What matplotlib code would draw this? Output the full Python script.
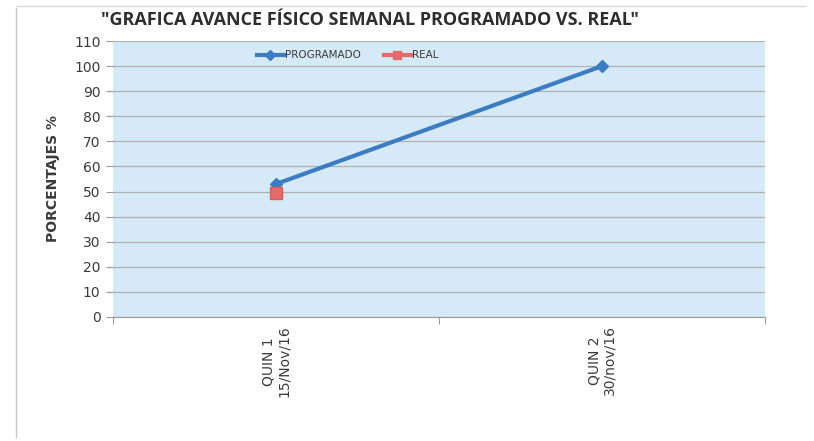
import matplotlib.pyplot as plt
from matplotlib.lines import Line2D

# data
categories = ['QUIN 1\n15/Nov/16', 'QUIN 2\n30/nov/16']
programado = [53, 100]
real = [49.5]
y_ticks = list(range(0, 111, 10))

blue = '#3b7dc0'
red = '#e56b6b'
bg = '#d6e9f6'
text_col = '#3a3a3a'

fig = plt.figure(figsize=(8.14, 4.41), dpi=100)
ax = fig.add_axes([113 / 814, 1 - 317 / 441, (765 - 113) / 814, (317 - 41) / 441])
ax.set_facecolor(bg)

x_prog = list(range(len(programado)))
x_real = list(range(len(real)))
ax.plot(x_prog, programado, color=blue, lw=3, marker='D', ms=6,
        markerfacecolor=blue, markeredgecolor=blue, label='PROGRAMADO', zorder=3)
ax.plot(x_real, real, color=red, lw=3, marker='s', ms=9,
        markerfacecolor=red, markeredgecolor='#d85c5c', label='REAL', zorder=4)

ax.set_ylim(0, 110)
ax.set_yticks(y_ticks)
ax.tick_params(axis='y', length=5, color='#9a9a9a', labelsize=10, labelcolor=text_col, pad=4)
ax.grid(axis='y', color='#b0b0b0', lw=0.9)
ax.set_axisbelow(True)

ax.set_xlim(-0.5, len(categories) - 0.5)
ax.set_xticks([i - 0.5 for i in range(len(categories) + 1)])
ax.set_xticklabels([])
ax.set_xticks(range(len(categories)), minor=True)
ax.set_xticklabels(categories, minor=True, rotation=90, fontsize=10, color=text_col,
                   va='top', ha='center', linespacing=1.1)
ax.tick_params(axis='x', which='major', length=5, color='#9a9a9a')
ax.tick_params(axis='x', which='minor', length=0, pad=6)

for s in ['top', 'right', 'left']:
    ax.spines[s].set_visible(False)
ax.spines['bottom'].set_color('#9a9a9a')

ax.set_ylabel('PORCENTAJES %', fontsize=10, fontweight='bold', color=text_col, labelpad=10)

handles = [Line2D([], [], color=blue, lw=3, marker='D', ms=5),
           Line2D([], [], color=red, lw=3, marker='s', ms=6)]
ax.legend(handles, ['PROGRAMADO', 'REAL'], loc='upper center', bbox_to_anchor=(0.36, 1.0),
          ncol=2, frameon=False, fontsize=7.5, handlelength=2.6, handletextpad=0.1,
          columnspacing=2.2, labelcolor=text_col)

fig.text(370 / 814, 1 - 20 / 441, '"GRAFICA AVANCE FÍSICO SEMANAL PROGRAMADO VS. REAL"',
         ha='center', va='center', fontsize=13, fontweight='bold', color='#2e2e2e',
         family='Open Sans')

# faint frame of the original chart
fig.add_artist(Line2D([16 / 814, 16 / 814], [1 - 437 / 441, 1 - 8 / 441], color='#c8c8c8', lw=1))
fig.add_artist(Line2D([16 / 814, 805 / 814], [1 - 6 / 441, 1 - 6 / 441], color='#d8d8d8', lw=1))

fig.savefig('out.png', dpi=100)
